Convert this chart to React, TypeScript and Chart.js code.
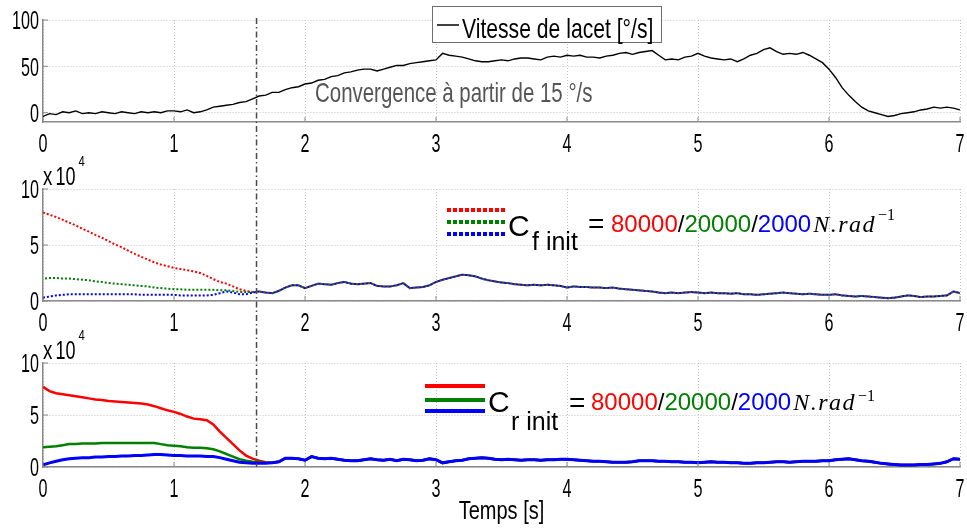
import React, { useEffect, useRef } from 'react';
import { Chart, registerables } from 'chart.js';

Chart.register(...registerables);

const W = 967;
const H = 529;

// ---------- data ----------
const SAMPLE_STEP = 0.05; // seconds between samples
const timeS: number[] = Array.from({ length: 141 }, (_, i) => +(i * SAMPLE_STEP).toFixed(2));

const xTicks = [0, 1, 2, 3, 4, 5, 6, 7];
const yawTicks = [0, 50, 100];
const stiffTicks = [0, 5, 10];
const CONVERGENCE_T = 1.63;

// yaw rate [deg/s], t = 0 .. 7 s
const yawRate = [
  -4, -1, -2, 1, 0, 2, -1, 0, -1, 1,
  0, -1, 1, 0, -1, 1, 0, 1, 0, 2,
  2, 1, 3, 0, 1, 3, 6, 7, 8, 9,
  11, 12, 15, 18, 19, 22, 22, 25, 27, 28,
  31, 32, 35, 36, 39, 40, 43, 44, 46, 47,
  47, 45, 47, 49, 51, 51, 53, 54, 55, 56,
  57, 64, 62, 61, 60, 58, 56, 55, 55, 56,
  57, 56, 58, 59, 59, 58, 57, 60, 61, 60,
  62, 61, 62, 60, 60, 59, 61, 62, 64, 65,
  63, 65, 66, 67, 62, 57, 58, 57, 60, 61,
  64, 61, 59, 58, 57, 58, 55, 58, 62, 64,
  68, 70, 66, 63, 64, 63, 65, 62, 58, 54,
  47, 38, 27, 19, 12, 6, 2, 0, -2, -4,
  -3, -1, 0, 1, 3, 4, 6, 5, 6, 5,
  3,
];

// C_f estimates (x 10^4), t = 0 .. 1.60 s per initial value
const cfRedStart = [7.9, 7.7, 7.5, 7.25, 7.0, 6.75, 6.45, 6.2, 5.9, 5.65, 5.35, 5.05, 4.8, 4.5, 4.2, 3.95, 3.7, 3.45, 3.25, 3.1, 2.95, 2.85, 2.75, 2.65, 2.5, 2.25, 1.95, 1.7, 1.55, 1.3, 1.05, 0.9, 0.8];
const cfGreenStart = [2.0, 2.05, 2.05, 2.0, 2.0, 1.95, 1.9, 1.85, 1.75, 1.7, 1.6, 1.55, 1.5, 1.45, 1.4, 1.35, 1.3, 1.2, 1.15, 1.1, 1.05, 1.05, 1.0, 1.0, 1.0, 1.0, 1.0, 0.95, 0.95, 0.9, 0.8, 0.8, 0.8];
const cfBlueStart = [0.3, 0.4, 0.5, 0.55, 0.6, 0.6, 0.6, 0.6, 0.6, 0.6, 0.6, 0.6, 0.6, 0.6, 0.6, 0.55, 0.55, 0.55, 0.55, 0.55, 0.55, 0.5, 0.5, 0.5, 0.5, 0.5, 0.55, 0.7, 0.85, 0.75, 0.6, 0.6, 0.75];
// converged C_f, t = 1.65 .. 7 s
const cfCommon = [
  0.85, 0.75, 0.7, 0.9, 1.2, 1.4, 1.4, 1.15, 1.35, 1.55,
  1.5, 1.45, 1.6, 1.7, 1.55, 1.5, 1.55, 1.6, 1.35, 1.3,
  1.3, 1.4, 1.6, 1.15, 1.2, 1.25, 1.4, 1.7, 1.9, 2.05,
  2.2, 2.35, 2.3, 2.2, 2.0, 1.85, 1.75, 1.65, 1.6, 1.5,
  1.45, 1.4, 1.45, 1.4, 1.45, 1.4, 1.35, 1.2, 1.3, 1.25,
  1.25, 1.2, 1.2, 1.15, 1.2, 1.1, 1.05, 1.0, 0.95, 0.9,
  0.85, 0.75, 0.7, 0.75, 0.7, 0.75, 0.8, 0.75, 0.7, 0.75,
  0.7, 0.7, 0.65, 0.7, 0.6, 0.6, 0.55, 0.6, 0.65, 0.7,
  0.75, 0.7, 0.65, 0.6, 0.65, 0.6, 0.55, 0.55, 0.6, 0.5,
  0.45, 0.4, 0.45, 0.4, 0.35, 0.3, 0.25, 0.3, 0.4, 0.5,
  0.45, 0.35, 0.4, 0.4, 0.45, 0.5, 0.85, 0.7,
];

// C_r estimates (x 10^4), t = 0 .. 1.75 s per initial value
const crRedStart = [7.7, 7.3, 7.1, 7.0, 6.9, 6.8, 6.7, 6.6, 6.5, 6.45, 6.35, 6.3, 6.25, 6.2, 6.15, 6.1, 6.0, 5.85, 5.65, 5.45, 5.3, 5.1, 4.85, 4.65, 4.6, 4.5, 4.1, 3.4, 2.8, 2.2, 1.6, 1.1, 0.8, 0.6, 0.45, 0.4];
const crGreenStart = [1.9, 1.95, 2.0, 2.1, 2.2, 2.2, 2.25, 2.25, 2.25, 2.3, 2.3, 2.3, 2.3, 2.3, 2.3, 2.3, 2.3, 2.3, 2.2, 2.1, 2.05, 2.0, 1.9, 1.85, 1.85, 1.8, 1.7, 1.5, 1.25, 1.0, 0.75, 0.6, 0.5, 0.45, 0.4, 0.4];
const crBlueStart = [0.2, 0.4, 0.55, 0.7, 0.8, 0.85, 0.9, 0.9, 0.95, 0.95, 1.0, 1.0, 1.05, 1.05, 1.1, 1.1, 1.15, 1.2, 1.2, 1.15, 1.1, 1.1, 1.05, 1.05, 1.05, 1.0, 1.0, 0.9, 0.75, 0.6, 0.45, 0.4, 0.35, 0.35, 0.35, 0.4];
// converged C_r, t = 1.80 .. 7 s
const crCommon = [
  0.5, 0.85, 0.85, 0.8, 0.65, 1.0, 0.85, 0.8, 0.85, 0.75,
  0.65, 0.6, 0.6, 0.7, 0.8, 0.7, 0.65, 0.75, 0.6, 0.75,
  0.7, 0.6, 0.65, 0.8, 0.7, 0.4, 0.5, 0.6, 0.65, 0.8,
  0.85, 0.9, 0.85, 0.75, 0.7, 0.75, 0.7, 0.65, 0.7, 0.7,
  0.65, 0.7, 0.7, 0.75, 0.75, 0.7, 0.65, 0.6, 0.55, 0.55,
  0.5, 0.45, 0.45, 0.45, 0.5, 0.6, 0.6, 0.6, 0.55, 0.55,
  0.5, 0.5, 0.45, 0.45, 0.4, 0.45, 0.5, 0.45, 0.45, 0.4,
  0.4, 0.35, 0.35, 0.4, 0.4, 0.45, 0.5, 0.5, 0.45, 0.5,
  0.55, 0.55, 0.55, 0.6, 0.6, 0.7, 0.75, 0.8, 0.7, 0.6,
  0.55, 0.45, 0.35, 0.3, 0.25, 0.2, 0.2, 0.2, 0.25, 0.25,
  0.3, 0.35, 0.5, 0.8, 0.75,
];

const initLabels = ['80000', '20000', '2000'];

// ---------- styles ----------
const RED = '#ff0000';
const GREEN = '#008000';
const BLUE = '#0000ff';
const GRID = '#c2c2c2';
const AXIS = '#8a8a8a';
const COND_FAMILY = '"Liberation Sans", Arial, "DejaVu Sans", sans-serif';
const SANS = '"Liberation Sans", Arial, sans-serif';
const SERIF = '"Liberation Serif", "DejaVu Serif", serif';

const toPoints = (vals: number[]) => vals.map((v, i) => ({ x: timeS[i], y: v }));

function condText(ctx: any, text: string, x: number, y: number, size: number, sx: number, align: string, color: string) {
  ctx.save();
  ctx.font = `${size}px ${COND_FAMILY}`;
  ctx.fillStyle = color;
  ctx.textBaseline = 'alphabetic';
  ctx.textAlign = 'left';
  const w = ctx.measureText(text).width * sx;
  const x0 = align === 'center' ? x - w / 2 : align === 'right' ? x - w : x;
  ctx.translate(x0, y);
  ctx.scale(sx, 1);
  ctx.fillText(text, 0, 0);
  ctx.restore();
  return w;
}

function plainText(ctx: any, text: string, x: number, y: number, font: string, color: string, spacing = 0) {
  ctx.save();
  ctx.font = font;
  ctx.fillStyle = color;
  ctx.textAlign = 'left';
  ctx.textBaseline = 'alphabetic';
  if (spacing) (ctx as any).letterSpacing = `${spacing}px`;
  ctx.fillText(text, x, y);
  const w = ctx.measureText(text).width;
  ctx.restore();
  return w;
}

// axes decorations: inward ticks, condensed tick labels, optional multiplier
function axesDecor(withMultiplier: boolean) {
  return {
    id: 'axesDecor',
    afterDraw(chart: any) {
      const ctx = chart.ctx;
      const { left, top, bottom } = chart.chartArea;
      const xs = chart.scales.x;
      const ys = chart.scales.y;
      ctx.save();
      ctx.strokeStyle = AXIS;
      ctx.lineWidth = 1;
      xs.ticks.forEach((t: any) => {
        const px = xs.getPixelForValue(t.value);
        ctx.beginPath();
        ctx.moveTo(px, bottom);
        ctx.lineTo(px, bottom - 5);
        ctx.stroke();
        condText(ctx, String(t.value), px, bottom + 29.5, 26, 0.62, 'center', '#000');
      });
      ys.ticks.forEach((t: any) => {
        const py = ys.getPixelForValue(t.value);
        ctx.beginPath();
        ctx.moveTo(left, py);
        ctx.lineTo(left + 5, py);
        ctx.stroke();
        condText(ctx, String(t.value), left - 4, py + 9.3, 26, 0.62, 'right', '#000');
      });
      ctx.restore();
      if (withMultiplier) {
        let x = left;
        const base = top - 4.5;
        x += condText(ctx, 'x', x, base, 25, 0.75, 'left', '#000') + 3;
        x += condText(ctx, '10', x, base, 25, 0.72, 'left', '#000') + 3;
        condText(ctx, '4', x, base - 19, 15, 0.75, 'left', '#000');
      }
    },
  };
}

function scaleOpts(min: number, max: number, ticks: number[], isX: boolean) {
  return {
    type: 'linear',
    min,
    max,
    afterBuildTicks: (s: any) => {
      s.ticks = ticks.map((v) => ({ value: v }));
    },
    afterFit: (s: any) => {
      if (isX) s.height = 0;
      else s.width = 0;
    },
    ticks: { display: false },
    grid: { color: GRID, lineWidth: 1, drawTicks: false },
    border: { display: true, color: AXIS, width: 1.5, dash: [1, 2] },
  };
}

function baseOptions(padTop: number, padBottom: number, yMin: number, yMax: number, yTicks: number[]) {
  return {
    animation: false,
    responsive: false,
    maintainAspectRatio: false,
    events: [],
    layout: { padding: { left: 43, right: 7, top: padTop, bottom: padBottom } },
    plugins: { legend: { display: false }, tooltip: { enabled: false } },
    elements: { point: { radius: 0 }, line: { tension: 0 } },
    scales: {
      x: scaleOpts(0, 7, xTicks, true),
      y: scaleOpts(yMin, yMax, yTicks, false),
    },
  };
}

// legend-like formula label used in panels 2 and 3
function drawInitLegend(ctx: any, chart: any, sub: string, o: any) {
  const ds = chart.data.datasets;
  ds.forEach((d: any, i: number) => {
    ctx.save();
    ctx.strokeStyle = d.borderColor;
    ctx.lineWidth = 4;
    ctx.setLineDash(o.dash);
    ctx.beginPath();
    ctx.moveTo(o.lineX0, o.lineYs[i]);
    ctx.lineTo(o.lineX1, o.lineYs[i]);
    ctx.stroke();
    ctx.restore();
  });
  plainText(ctx, 'C', o.cX, o.cBase, `30px ${SANS}`, '#000');
  plainText(ctx, sub, o.subX, o.subBase, `25px ${SANS}`, '#000');
  plainText(ctx, '=', o.eqX, o.eqBase, `28px ${SANS}`, '#000');
  let x = o.numX;
  initLabels.forEach((lab, i) => {
    x += plainText(ctx, lab, x, o.numBase, `24px ${SANS}`, ds[i].borderColor);
    if (i < initLabels.length - 1) x += plainText(ctx, '/', x, o.numBase, `24px ${SANS}`, '#000');
  });
  x += 2;
  x += plainText(ctx, 'N.rad', x, o.numBase, `italic 24px ${SERIF}`, '#000', 1.5);
  plainText(ctx, '\u22121', x + 2, o.supBase, `16px ${SERIF}`, '#000');
}

export default function App() {
  const c1 = useRef<HTMLCanvasElement>(null);
  const c2 = useRef<HTMLCanvasElement>(null);
  const c3 = useRef<HTMLCanvasElement>(null);

  useEffect(() => {
    // ---- panel 1: yaw rate ----
    const ch1 = new Chart(c1.current as any, {
      type: 'line',
      data: {
        datasets: [
          { label: 'Vitesse de lacet [°/s]', data: toPoints(yawRate), borderColor: '#000', borderWidth: 1.4 },
        ],
      },
      options: baseOptions(20, H - 122, -10, 100, yawTicks) as any,
      plugins: [
        axesDecor(false),
        {
          id: 'panel1Text',
          beforeDatasetsDraw(chart: any) {
            condText(chart.ctx, 'Convergence à partir de 15 °/s', 315, 102, 28, 0.73, 'left', '#555');
          },
          afterDraw(chart: any) {
            const ctx = chart.ctx;
            ctx.save();
            ctx.fillStyle = '#fff';
            ctx.strokeStyle = '#6e6e6e';
            ctx.lineWidth = 1;
            ctx.fillRect(432.5, 6.5, 229, 36);
            ctx.strokeRect(432.5, 6.5, 229, 36);
            ctx.strokeStyle = '#000';
            ctx.lineWidth = 1.5;
            ctx.beginPath();
            ctx.moveTo(437, 25);
            ctx.lineTo(459, 25);
            ctx.stroke();
            ctx.restore();
            condText(ctx, chart.data.datasets[0].label, 462, 38, 28, 0.755, 'left', '#000');
          },
        } as any,
      ],
    } as any);

    // ---- panel 2: C_f ---- (blue drawn on top, green dots offset so both show)
    const ch2 = new Chart(c2.current as any, {
      type: 'line',
      data: {
        datasets: [
          { data: toPoints([...cfRedStart, ...cfCommon]), borderColor: RED, borderWidth: 2, borderDash: [2, 2], order: 3 },
          { data: toPoints([...cfGreenStart, ...cfCommon]), borderColor: GREEN, borderWidth: 2, borderDash: [2, 2], borderDashOffset: 2, order: 2 },
          { data: toPoints([...cfBlueStart, ...cfCommon]), borderColor: BLUE, borderWidth: 2, borderDash: [2, 2], order: 1 },
        ],
      },
      options: baseOptions(189, H - 301, 0, 10, stiffTicks) as any,
      plugins: [
        axesDecor(true),
        {
          id: 'cfLegend',
          afterDraw(chart: any) {
            drawInitLegend(chart.ctx, chart, 'f init', {
              dash: [4, 2], lineX0: 447, lineX1: 506, lineYs: [210, 222, 234],
              cX: 508, cBase: 235.5, subX: 532, subBase: 250, eqX: 588, eqBase: 232.5,
              numX: 611, numBase: 231.5, supBase: 220,
            });
          },
        } as any,
      ],
    } as any);

    // ---- panel 3: C_r ----
    const ch3 = new Chart(c3.current as any, {
      type: 'line',
      data: {
        datasets: [
          { data: toPoints([...crRedStart, ...crCommon]), borderColor: RED, borderWidth: 2.5, order: 3 },
          { data: toPoints([...crGreenStart, ...crCommon]), borderColor: GREEN, borderWidth: 2.5, order: 2 },
          { data: toPoints([...crBlueStart, ...crCommon]), borderColor: BLUE, borderWidth: 3, order: 1 },
        ],
      },
      options: baseOptions(363, H - 467, 0, 10, stiffTicks) as any,
      plugins: [
        axesDecor(true),
        {
          id: 'crLegend',
          afterDraw(chart: any) {
            const ctx = chart.ctx;
            drawInitLegend(ctx, chart, 'r init', {
              dash: [], lineX0: 425, lineX1: 485, lineYs: [386, 400, 411],
              cX: 488, cBase: 412, subX: 511, subBase: 430, eqX: 569, eqBase: 411.5,
              numX: 591, numBase: 409.5, supBase: 401,
            });
            const { left, right, bottom } = chart.chartArea;
            condText(ctx, 'Temps [s]', (left + right) / 2, 518.5, 25, 0.8, 'center', '#000');
            // convergence marker across all three panels
            const px = chart.scales.x.getPixelForValue(CONVERGENCE_T);
            ctx.save();
            ctx.strokeStyle = '#4a4a4a';
            ctx.lineWidth = 1.5;
            ctx.setLineDash([6, 3, 1.5, 3]);
            ctx.beginPath();
            ctx.moveTo(px, ch1.chartArea.top - 2);
            ctx.lineTo(px, bottom);
            ctx.stroke();
            ctx.restore();
          },
        } as any,
      ],
    } as any);

    return () => {
      ch1.destroy();
      ch2.destroy();
      ch3.destroy();
    };
  }, []);

  const cs: any = { position: 'absolute', left: 0, top: 0, width: W, height: H };
  return (
    <div style={{ position: 'fixed', left: 0, top: 0, width: W, height: H, background: '#fff', overflow: 'hidden' }}>
      <canvas ref={c1} width={W} height={H} style={cs} />
      <canvas ref={c2} width={W} height={H} style={cs} />
      <canvas ref={c3} width={W} height={H} style={cs} />
    </div>
  );
}
